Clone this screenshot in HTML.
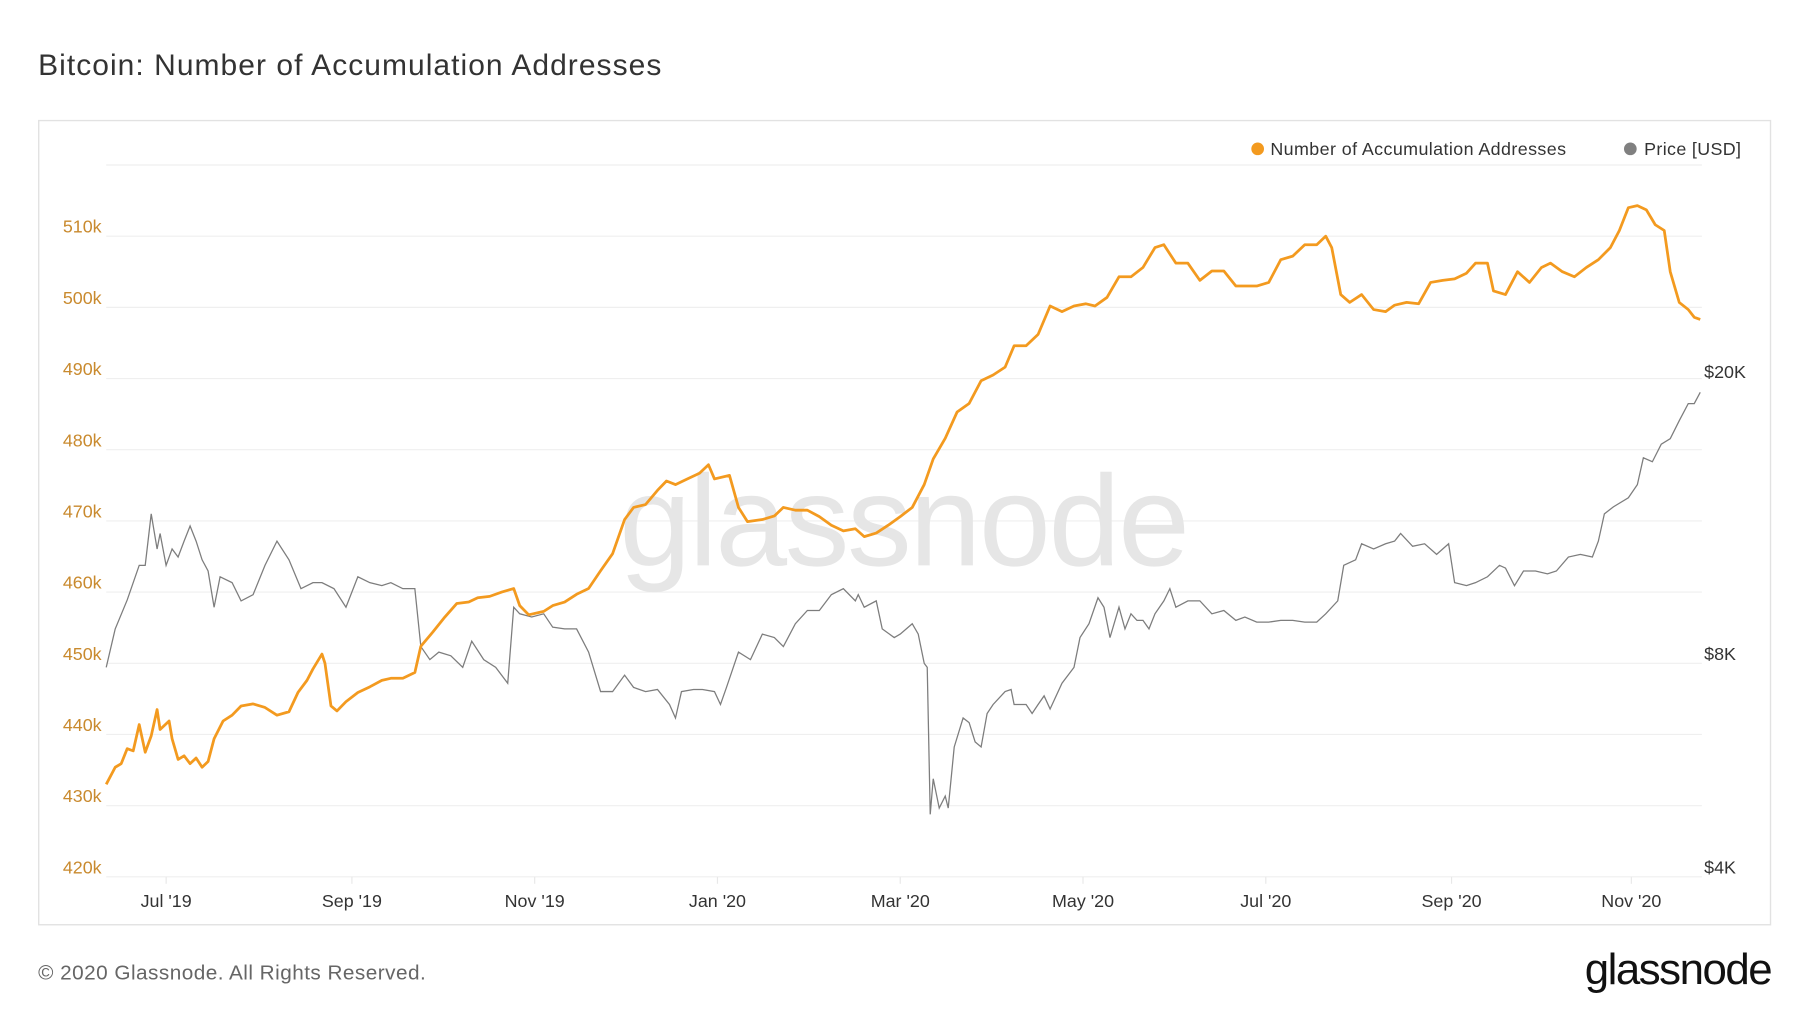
<!DOCTYPE html>
<html><head><meta charset="utf-8"><style>
html,body{margin:0;padding:0;background:#fff;}
svg{display:block;font-family:"Liberation Sans",sans-serif;}
</style></head><body>
<svg id="chart" width="1800" height="1013" viewBox="0 0 1560 878" xmlns="http://www.w3.org/2000/svg">
<text x="33" y="65" font-size="26" fill="#333" letter-spacing="0.9">Bitcoin: Number of Accumulation Addresses</text>
<rect x="33.5" y="104.5" width="1501" height="697" fill="#fff" stroke="#e2e2e2" stroke-width="1.2"/>
<g id="grid"></g>
<text x="783" y="490" font-size="112" fill="#e6e6e6" text-anchor="middle" letter-spacing="-2">glassnode</text>
<g id="yleft"></g>
<g id="yright"></g>
<g id="xaxis"></g>
<path id="pricePath" fill="none" stroke="#7d7d7d" stroke-width="1.1"/>
<path id="accPath" fill="none" stroke="#f39a1f" stroke-width="2.4" stroke-linejoin="round"/>
<g>
<g>
<circle cx="1090" cy="129" r="5.5" fill="#f39a1f"/>
<text x="1101" y="134.5" font-size="15.5" fill="#333" letter-spacing="0.35">Number of Accumulation Addresses</text></g>
<g>
<circle cx="1413" cy="129" r="5.5" fill="#808080"/>
<text x="1425" y="134.5" font-size="15.5" fill="#333" letter-spacing="0.3">Price [USD]</text></g>
</g>
<text x="33" y="849" font-size="18" fill="#666" letter-spacing="0.4">© 2020 Glassnode. All Rights Reserved.</text>
<text x="1535" y="853" font-size="38" fill="#111" text-anchor="end" letter-spacing="-1.3">glassnode</text>
</svg>
<script>
const accDays=[0,3,5,7,9,11,13,15,17,18,21,22,24,26,28,30,32,34,36,39,42,45,49,53,57,61,64,67,69,72,73,75,77,80,84,88,92,95,99,103,105,109,113,117,121,124,128,132,136,138,141,146,149,153,157,161,165,169,173,176,180,184,187,190,194,198,201,203,208,211,214,219,223,226,230,234,238,242,246,250,253,257,261,265,269,273,276,280,284,288,292,296,300,303,307,311,315,319,323,327,330,334,338,342,346,350,353,357,361,365,369,373,377,380,384,388,392,396,400,404,407,409,412,415,419,423,427,430,434,438,442,446,450,454,457,461,463,467,471,475,479,482,486,490,494,498,502,505,508,511,514,517,520,522,525,528,530,532];
const accValues=[433,435.4,435.9,438,437.7,441.4,437.5,439.8,443.5,440.7,441.9,439.4,436.5,437,435.9,436.7,435.4,436.2,439.4,441.9,442.7,444,444.3,443.8,442.7,443.2,445.9,447.6,449.2,451.3,450,444,443.3,444.6,445.9,446.7,447.6,447.9,447.9,448.7,452.4,454.4,456.5,458.4,458.6,459.2,459.4,460,460.5,458.1,456.8,457.3,458.1,458.6,459.7,460.5,463,465.4,470.2,471.9,472.3,474.3,475.6,475.1,475.9,476.7,477.9,475.9,476.4,471.9,469.9,470.2,470.7,471.9,471.5,471.5,470.6,469.4,468.6,468.9,467.8,468.3,469.4,470.6,471.9,475.1,478.7,481.6,485.3,486.5,489.7,490.5,491.6,494.6,494.6,496.2,500.2,499.4,500.2,500.5,500.2,501.4,504.3,504.3,505.6,508.4,508.8,506.2,506.2,503.8,505.1,505.1,503,503,503,503.5,506.7,507.2,508.8,508.8,510,508.4,501.8,500.7,501.8,499.7,499.4,500.3,500.7,500.5,503.5,503.8,504,504.8,506.2,506.2,502.3,501.8,505,503.5,505.6,506.2,505,504.3,505.6,506.7,508.4,510.8,514,514.3,513.7,511.6,510.8,505,500.7,499.7,498.6,498.3];
const priceDays=[0,3,7,11,13,15,17,18,20,22,24,26,28,30,32,34,36,38,42,45,49,53,57,61,65,69,72,76,80,84,88,92,95,99,103,105,108,111,115,119,122,126,130,134,136,138,142,146,149,153,157,161,165,169,173,176,180,184,188,190,192,196,199,203,205,207,211,215,219,223,226,230,234,238,242,246,250,251,253,257,259,263,265,269,271,273,274,275,276,278,280,281,283,286,288,290,292,294,296,300,302,303,307,309,311,313,315,319,323,325,328,331,333,335,338,340,342,344,346,348,350,353,355,357,361,365,369,373,377,380,384,388,392,396,400,404,407,411,413,417,419,423,427,430,432,436,440,444,448,450,454,457,461,465,467,470,473,477,481,484,488,492,496,498,500,503,508,511,513,516,519,522,525,528,530,532];
const priceValues=[7900,8950,9830,11000,11000,13000,11600,12200,11000,11600,11300,11900,12500,11900,11200,10800,9600,10600,10400,9800,10000,11000,11900,11200,10200,10400,10400,10200,9600,10600,10400,10300,10400,10200,10200,8450,8100,8300,8200,7900,8600,8100,7900,7500,9600,9400,9300,9400,9000,8950,8950,8300,7300,7300,7700,7400,7300,7350,7000,6700,7300,7350,7350,7300,7000,7400,8300,8100,8800,8700,8450,9100,9500,9500,10000,10200,9800,10000,9600,9800,8950,8700,8800,9100,8800,8000,7900,4900,5500,5000,5200,5000,6100,6700,6600,6200,6100,6800,7000,7300,7350,7000,7000,6800,7000,7200,6900,7500,7900,8700,9100,9900,9600,8700,9600,8950,9400,9200,9200,8950,9400,9800,10200,9600,9800,9800,9400,9500,9200,9300,9150,9150,9200,9200,9150,9150,9400,9800,11000,11200,11800,11600,11800,11900,12200,11700,11800,11400,11800,10400,10300,10400,10600,11000,10900,10300,10800,10800,10700,10800,11300,11400,11300,11900,13000,13300,13700,14300,15600,15400,16300,16600,17600,18600,18600,19300];
const leftTicks=[420,430,440,450,460,470,480,490,500,510];
const rightTicks=[4000,8000,20000];
const rightTickLabels=["$4K","$8K","$20K"];
const xTickDays=[20,82,143,204,265,326,387,449,509];
const xTickLabels=["Jul '19","Sep '19","Nov '19","Jan '20","Mar '20","May '20","Jul '20","Sep '20","Nov '20"];

const NS="http://www.w3.org/2000/svg";
const X0=92,X1=1475,DAYPX=2.597;
function xScale(d){return X0+d*DAYPX;}
function yLeft(v){return 760-(v-420)*6.17;}
function yRight(p){return 760-185*Math.log2(p/4000);}
function mk(tag,attrs,parent){const e=document.createElementNS(NS,tag);for(const k in attrs)e.setAttribute(k,attrs[k]);parent.appendChild(e);return e;}

const grid=document.getElementById('grid');
for(const v of leftTicks.concat([520])){
  const l=mk('line',{x1:X0,x2:X1,y1:yLeft(v),y2:yLeft(v),stroke:'#efefef','stroke-width':1},grid);
  
  
}
const yl=document.getElementById('yleft');
for(const v of leftTicks){
  const t=mk('text',{x:88,y:yLeft(v)-3,'font-size':15.5,fill:'#c98a2e','text-anchor':'end'},yl);
  t.textContent=v+'k';
  
  
}
const yr=document.getElementById('yright');
rightTicks.forEach((p,i)=>{
  const t=mk('text',{x:1477,y:yRight(p)-3,'font-size':15.5,fill:'#333'},yr);
  t.textContent=rightTickLabels[i];
  
  
});
const xa=document.getElementById('xaxis');
xTickDays.forEach((d,i)=>{
  const tk=mk('line',{x1:xScale(d),x2:xScale(d),y1:760,y2:766,stroke:'#e8e8e8'},xa);
  
  
  const t=mk('text',{x:xScale(d),y:786,'font-size':15.5,fill:'#333','text-anchor':'middle'},xa);
  t.textContent=xTickLabels[i];
  
  
});
let d='';
accDays.forEach((day,i)=>{d+=(i?'L':'M')+xScale(day).toFixed(1)+' '+yLeft(accValues[i]).toFixed(1);});
document.getElementById('accPath').setAttribute('d',d);
d='';
priceDays.forEach((day,i)=>{d+=(i?'L':'M')+xScale(day).toFixed(1)+' '+yRight(priceValues[i]).toFixed(1);});
document.getElementById('pricePath').setAttribute('d',d);
</script>
</body></html>
